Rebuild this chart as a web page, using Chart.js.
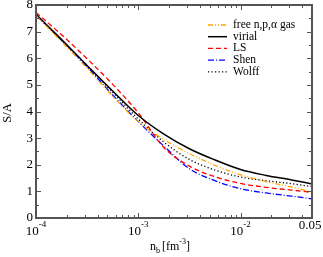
<!DOCTYPE html>
<html><head><meta charset="utf-8">
<script src="https://cdn.jsdelivr.net/npm/chart.js@4/dist/chart.umd.min.js"></script>
<style>html,body{margin:0;padding:0;background:#fff;}canvas{display:block;}</style>
</head><body>
<canvas id="c" width="323" height="257"></canvas>
<script>
const density = [1e-4, 1.78e-4, 3.16e-4, 5.62e-4, 1e-3, 1.78e-3, 3.16e-3, 5.62e-3, 1e-2, 1.78e-2, 3.16e-2, 5e-2];
const freeGas = [7.60, 6.62, 5.62, 4.58, 3.62, 2.95, 2.42, 1.98, 1.62, 1.37, 1.16, 0.98];
const virial  = [7.65, 6.70, 5.73, 4.77, 3.85, 3.15, 2.60, 2.18, 1.82, 1.60, 1.43, 1.28];
const ls      = [7.72, 6.88, 5.98, 5.02, 3.95, 2.65, 1.95, 1.55, 1.30, 1.15, 1.05, 0.96];
const shen    = [7.62, 6.68, 5.68, 4.62, 3.62, 2.70, 1.85, 1.40, 1.10, 0.94, 0.82, 0.72];
const wolff   = [7.62, 6.67, 5.70, 4.72, 3.72, 2.85, 2.20, 1.80, 1.54, 1.40, 1.29, 1.18];
const seriesNames = ['free n,p,\u03b1 gas', 'virial', 'LS', 'Shen', 'Wolff'];
const yTickValues = [0, 1, 2, 3, 4, 5, 6, 7, 8];
const xTickLabels = [{v: 1e-4, base: '10', exp: '-4'}, {v: 1e-3, base: '10', exp: '-3'}, {v: 1e-2, base: '10', exp: '-2'}, {v: 0.05, base: '0.05', exp: ''}];

const styles = [
  {color: '#FFA500', dash: [5, 2, 1, 2, 1, 2], width: 1.3},
  {color: '#000000', dash: [], width: 1.5},
  {color: '#FF0000', dash: [5, 3], width: 1.3},
  {color: '#0000FF', dash: [6, 2, 1, 2], width: 1.3},
  {color: '#000000', dash: [1.2, 2.3], width: 1.3}
];
const allSeries = [freeGas, virial, ls, shen, wolff];

const datasets = allSeries.map((s, i) => ({
  label: seriesNames[i],
  data: density.map((x, j) => ({x: x, y: s[j]})),
  borderColor: styles[i].color,
  borderDash: styles[i].dash,
  borderWidth: styles[i].width,
  pointRadius: 0,
  fill: false,
  cubicInterpolationMode: 'monotone'
}));

const FONT = '"Liberation Serif", "DejaVu Serif", serif';

const decor = {
  id: 'decor',
  afterDraw(chart) {
    const ctx = chart.ctx, a = chart.chartArea, xs = chart.scales.x, ys = chart.scales.y;
    ctx.save();
    ctx.strokeStyle = '#555';
    ctx.lineWidth = 2;
    ctx.setLineDash([]);
    ctx.strokeRect(a.left, a.top, a.right - a.left, a.bottom - a.top);
    ctx.lineWidth = 1;
    ctx.beginPath();
    yTickValues.forEach(v => {
      const p = Math.round(ys.getPixelForValue(v)) + 0.5;
      ctx.moveTo(a.left, p); ctx.lineTo(a.left + 5, p);
      ctx.moveTo(a.right, p); ctx.lineTo(a.right - 5, p);
      if (v < 8) {
        const q = Math.round(ys.getPixelForValue(v + 0.5)) + 0.5;
        ctx.moveTo(a.left, q); ctx.lineTo(a.left + 3, q);
        ctx.moveTo(a.right, q); ctx.lineTo(a.right - 3, q);
      }
    });
    [1e-4, 1e-3, 1e-2].forEach(d => {
      for (let m = 1; m <= 9; m++) {
        const v = d * m;
        if (v > 0.05 + 1e-9) break;
        const len = m === 1 ? 5 : 3;
        const p = Math.round(xs.getPixelForValue(v)) + 0.5;
        ctx.moveTo(p, a.bottom); ctx.lineTo(p, a.bottom - len);
        ctx.moveTo(p, a.top); ctx.lineTo(p, a.top + len);
      }
    });
    ctx.stroke();

    ctx.fillStyle = '#000';
    ctx.font = '13px ' + FONT;
    ctx.textAlign = 'right';
    ctx.textBaseline = 'middle';
    yTickValues.forEach(v => {
      ctx.fillText(String(v), a.left - 3, ys.getPixelForValue(v));
    });
    ctx.textBaseline = 'alphabetic';
    xTickLabels.forEach(t => {
      const p = xs.getPixelForValue(t.v);
      if (t.exp) {
        ctx.font = '13px ' + FONT;
        const wb = ctx.measureText(t.base).width;
        ctx.font = '9px ' + FONT;
        const we = ctx.measureText(t.exp).width;
        const start = p - (wb + we) / 2;
        ctx.textAlign = 'left';
        ctx.font = '13px ' + FONT;
        ctx.fillText(t.base, start, a.bottom + 17);
        ctx.font = '9px ' + FONT;
        ctx.fillText(t.exp, start + wb, a.bottom + 9);
      } else {
        ctx.textAlign = 'center';
        ctx.font = '13px ' + FONT;
        ctx.fillText(t.base, p - 2, a.bottom + 11);
      }
    });
    ctx.textAlign = 'left';
    let xx = 150, yy = 250;
    ctx.font = '12px ' + FONT; ctx.fillText('n', xx, yy); xx += ctx.measureText('n').width;
    ctx.font = '8px ' + FONT; ctx.fillText('b', xx, yy + 3); xx += ctx.measureText('b').width + 2;
    ctx.font = '12px ' + FONT; ctx.fillText('[fm', xx, yy); xx += ctx.measureText('[fm').width;
    ctx.font = '8px ' + FONT; ctx.fillText('-3', xx, yy - 6); xx += ctx.measureText('-3').width;
    ctx.font = '12px ' + FONT; ctx.fillText(']', xx, yy);
    ctx.save();
    ctx.translate(11, 113);
    ctx.rotate(-Math.PI / 2);
    ctx.textAlign = 'center';
    ctx.font = '12.5px ' + FONT;
    ctx.fillText('S/A', 0, 0);
    ctx.restore();

    const ly0 = 25, dy = 11.7;
    seriesNames.forEach((name, i) => {
      const y = ly0 + i * dy;
      ctx.beginPath();
      ctx.strokeStyle = styles[i].color;
      ctx.lineWidth = styles[i].width;
      ctx.setLineDash(styles[i].dash);
      ctx.moveTo(208, y); ctx.lineTo(227, y);
      ctx.stroke();
      ctx.setLineDash([]);
      ctx.fillStyle = '#000';
      ctx.font = '11.5px ' + FONT;
      ctx.textAlign = 'left';
      ctx.textBaseline = 'middle';
      ctx.fillText(name, 233, y);
    });
    ctx.restore();
  }
};

new Chart(document.getElementById('c'), {
  type: 'line',
  data: {datasets: datasets},
  options: {
    responsive: false,
    animation: false,
    devicePixelRatio: 1,
    layout: {padding: {left: 36, right: 11, top: 5, bottom: 39}},
    plugins: {legend: {display: false}, tooltip: {enabled: false}},
    scales: {
      x: {type: 'logarithmic', min: 1e-4, max: 0.05, display: false},
      y: {type: 'linear', min: 0, max: 8, display: false}
    }
  },
  plugins: [decor]
});
</script>
</body></html>
